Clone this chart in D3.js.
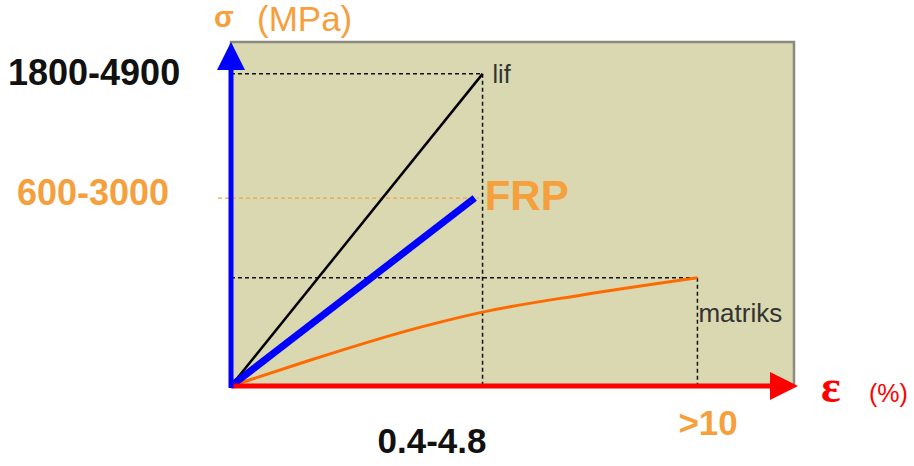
<!DOCTYPE html>
<html>
  <head>
    <title>Tegangan - regangan lif, FRP dan matriks</title>
    <meta charset="utf-8">
    <script type="text/javascript" src="https://d3js.org/d3.v7.min.js"></script>
    <style type="text/css">
        body { margin: 0; background: #fff; }
        svg { display: block; font-family: "Liberation Sans", Arial, sans-serif; }
    </style>
  </head>
  <body>
    <div id="viz"></div>
    <script type="text/javascript">

    // end points of the three curves (strain %, stress MPa) - schematic values
    var seriesNames = ["lif", "FRP", "matriks"];
    var endStrain = [4.8, 4.65, 8.9];
    var endStress = [4900, 2950, 1700];

    // matrix curve (bends over)
    var matrixStrain = [0, 1.3, 3.6, 4.8, 6.7, 8.9];
    var matrixStress = [0, 350, 920, 1160, 1430, 1700];

    var yTickLabels = ["1800-4900", "600-3000"];
    var yTickValues = [4900, 2950];
    var xTickLabels = ["0.4-4.8", ">10"];
    var xTickValues = [4.8, 8.9];

    var width = 914, height = 466;
    var svg = d3.select("#viz").append("svg")
        .attr("width", width)
        .attr("height", height);

    var x = d3.scaleLinear().domain([0, 10.8]).range([231, 797]);
    var y = d3.scaleLinear().domain([0, 5400]).range([386, 42]);

    var orange = "#f5a03c";

    // panel
    svg.append("rect")
        .attr("x", x(0))
        .attr("y", y(5400))
        .attr("width", 794 - x(0))
        .attr("height", y(0) - y(5400))
        .style("fill", "#d9d8b1")
        .style("stroke", "#8a8a80")
        .style("stroke-width", 2.5);

    // dashed guides for lif and matriks
    [0, 2].forEach(function(i) {
        svg.append("line")
            .attr("x1", x(0)).attr("x2", x(endStrain[i]))
            .attr("y1", y(endStress[i])).attr("y2", y(endStress[i]))
            .style("stroke", "#111").style("stroke-width", 1.5)
            .style("stroke-dasharray", "4,3");
        svg.append("line")
            .attr("x1", x(endStrain[i])).attr("x2", x(endStrain[i]))
            .attr("y1", y(endStress[i])).attr("y2", y(0))
            .style("stroke", "#111").style("stroke-width", 1.5)
            .style("stroke-dasharray", "4,3");
    });

    // orange dashed guide for FRP (runs out past the axis)
    svg.append("line")
        .attr("x1", 218).attr("x2", x(endStrain[1]) + 4)
        .attr("y1", y(endStress[1])).attr("y2", y(endStress[1]))
        .style("stroke", orange).style("stroke-width", 1.2)
        .style("stroke-dasharray", "4,3");

    // matriks curve
    var matrixData = matrixStrain.map(function(d, i) { return [d, matrixStress[i]]; });
    svg.append("path")
        .datum(matrixData)
        .attr("d", d3.line()
            .x(function(d) { return x(d[0]); })
            .y(function(d) { return y(d[1]); })
            .curve(d3.curveMonotoneX))
        .style("fill", "none")
        .style("stroke", "#ff6a00")
        .style("stroke-width", 3);

    // lif line
    svg.append("line")
        .attr("x1", x(0)).attr("y1", y(0))
        .attr("x2", x(endStrain[0])).attr("y2", y(endStress[0]))
        .style("stroke", "#000").style("stroke-width", 2.5);

    // FRP line
    svg.append("line")
        .attr("x1", x(0)).attr("y1", y(0))
        .attr("x2", x(endStrain[1])).attr("y2", y(endStress[1]))
        .style("stroke", "#0000ff").style("stroke-width", 7);

    // axes with arrow heads
    svg.append("line")
        .attr("x1", x(0)).attr("y1", y(0))
        .attr("x2", 772).attr("y2", y(0))
        .style("stroke", "#ff0000").style("stroke-width", 5);
    svg.append("path")
        .attr("d", "M770," + (y(0) - 14) + "L798," + y(0) + "L770," + (y(0) + 14) + "Z")
        .style("fill", "#ff0000");

    svg.append("line")
        .attr("x1", x(0)).attr("y1", y(0) + 2)
        .attr("x2", x(0)).attr("y2", 68)
        .style("stroke", "#0000ff").style("stroke-width", 5);
    svg.append("path")
        .attr("d", "M" + (x(0) - 14) + ",70L" + x(0) + ",42L" + (x(0) + 14) + ",70Z")
        .style("fill", "#0000ff");

    // axis titles
    svg.append("text").attr("x", 214).attr("y", 27)
        .style("font-size", "29px").style("font-weight", "bold").style("fill", orange)
        .text("σ");
    svg.append("text").attr("x", 257).attr("y", 31)
        .style("font-size", "35px").style("fill", orange)
        .text("(MPa)");
    svg.append("text").attr("x", 821).attr("y", 402)
        .style("font-family", "'Liberation Serif', serif")
        .style("font-size", "46px").style("font-weight", "bold").style("fill", "#ff0000")
        .text("ε");
    svg.append("text").attr("x", 869).attr("y", 402)
        .style("font-size", "25px").style("fill", "#ff0000")
        .text("(%)");

    // y labels
    var yColors = ["#111", orange];
    var yBase = [85, 205];
    yTickLabels.forEach(function(t, i) {
        svg.append("text")
            .attr("x", i == 0 ? 8 : 17)
            .attr("y", yBase[i])
            .style("font-size", "36px").style("font-weight", "bold")
            .style("fill", yColors[i])
            .text(t);
    });

    // x labels
    var xColors = ["#111", orange];
    xTickLabels.forEach(function(t, i) {
        svg.append("text")
            .attr("x", x(xTickValues[i]) - (i == 0 ? 105 : 19))
            .attr("y", i == 0 ? 453 : 435)
            .style("font-size", "35px").style("font-weight", "bold")
            .style("fill", xColors[i])
            .text(t);
    });

    // series labels
    svg.append("text")
        .attr("x", x(endStrain[0]) + 10).attr("y", y(endStress[0]) + 9)
        .style("font-size", "25px").style("fill", "#333")
        .text(seriesNames[0]);
    svg.append("text")
        .attr("x", x(endStrain[1]) + 10).attr("y", y(endStress[1]) + 12)
        .style("font-size", "42px").style("font-weight", "bold").style("fill", orange)
        .text(seriesNames[1]);
    svg.append("text")
        .attr("x", x(endStrain[2]) + 1).attr("y", 322)
        .style("font-size", "26px").style("fill", "#333")
        .text(seriesNames[2]);

    </script>
  </body>
</html>
